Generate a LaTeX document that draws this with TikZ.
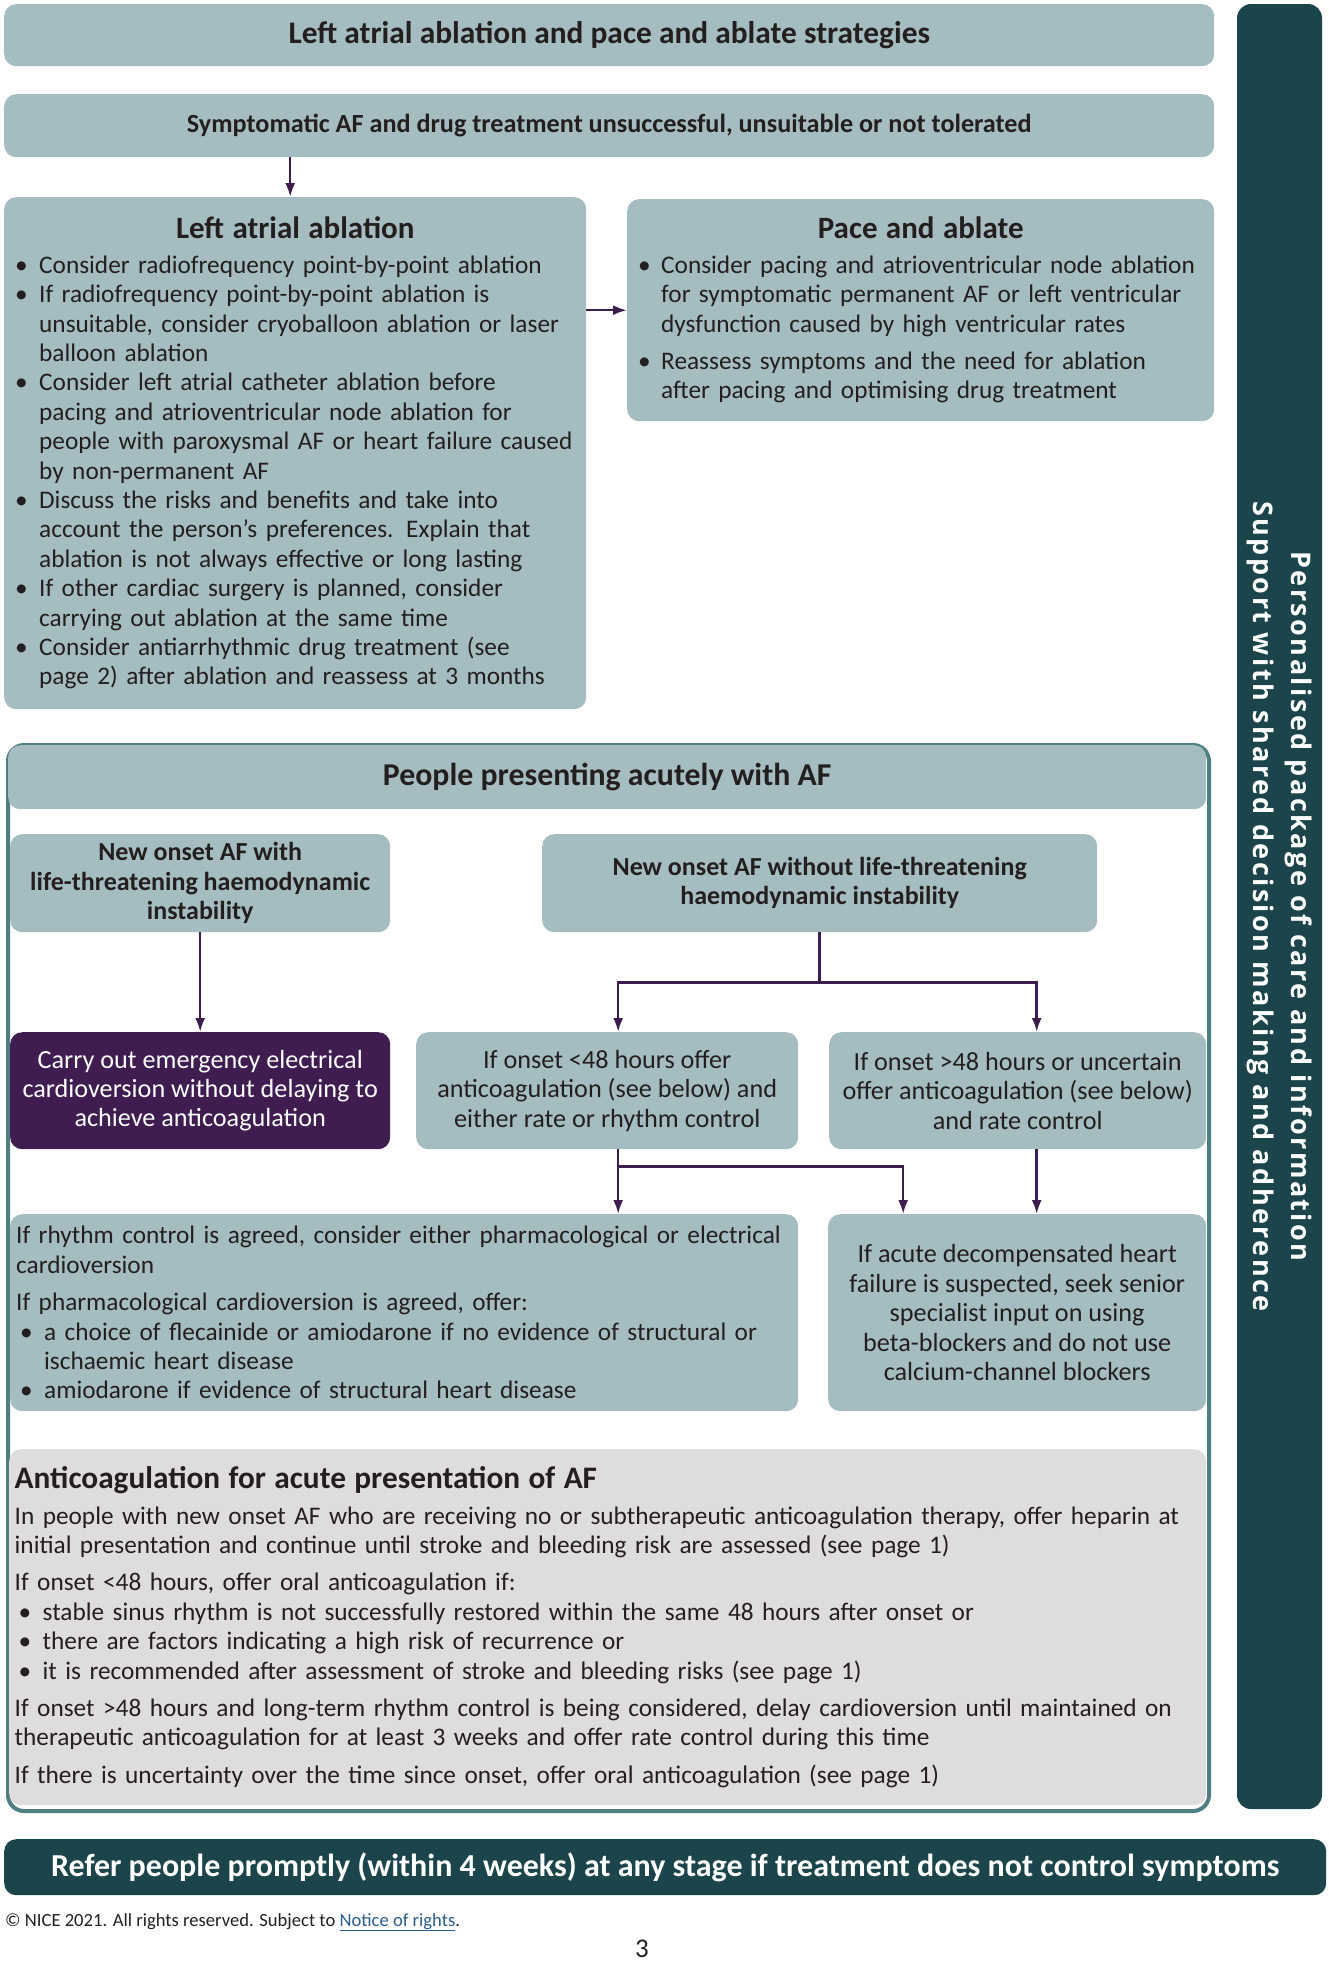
\documentclass[tikz,border=0pt]{standalone}
\usepackage{fontspec}
\setmainfont{Carlito}
\newfontfamily\sidefont{Open Sans}[LetterSpace=9]
\usepackage{xcolor}
\usetikzlibrary{arrows.meta, calc, positioning}

\definecolor{boxgrey}{HTML}{A5BDC1}
\definecolor{darkteal}{HTML}{1B454B}
\definecolor{frameteal}{HTML}{4F7E83}
\definecolor{deeppurple}{HTML}{3F1D51}
\definecolor{arrowpurple}{HTML}{3D1C4E}
\definecolor{palegrey}{HTML}{DEDCDD}
\definecolor{linkblue}{HTML}{2A5C8D}
\definecolor{textdark}{HTML}{231F20}

\setlength{\parindent}{0pt}
\newcommand{\fsz}[2]{\fontsize{#1}{#2}\selectfont}
\newlength{\bulw}
\newlength{\bulx}
% bullet item with hanging indent (\\ becomes \newline so the paragraph goes on)
\newcommand{\bpt}[1]{\par\noindent\hangindent=\bulw\hangafter=1%
  \makebox[\bulw][l]{\hspace*{\bulx}\textbullet}{\let\\\newline#1}\par}

\begin{document}
\begin{tikzpicture}[x=1pt, y=-1pt, >={Latex[length=14pt,width=10pt]},
  box/.style={fill=boxgrey, rounded corners=12pt, anchor=north west, inner sep=0pt,
    text=textdark, font=\fsz{26.2}{29.4}},
  listbox/.style={box, align=left, font=\fsz{25.3}{29.4}},
  arr/.style={->, draw=arrowpurple, line width=2.5pt}]
\useasboundingbox (0,0) rectangle (1329,1970);

% Top part
\node[box, minimum width=1210, minimum height=62, font=\bfseries\fsz{31.4}{34}] (head) at (4,4)
  {Left atrial ablation and pace and ablate strategies};
\node[box, minimum width=1210, minimum height=63, font=\bfseries\fsz{26.2}{30}] (symp) at (4,94)
  {Symptomatic AF and drug treatment unsuccessful, unsuitable or not tolerated};

\node[listbox, minimum width=582, minimum height=512, text width=570] (laa) at (4,197) {%
  \setlength{\bulw}{29pt}\setlength{\bulx}{5pt}%
  {\centering\bfseries\fsz{31}{34}Left atrial ablation\par}\vspace{5pt}%
  \bpt{Consider radiofrequency point-by-point ablation}
  \bpt{If radiofrequency point-by-point ablation is\\ unsuitable, consider cryoballoon ablation or laser\\ balloon ablation}
  \bpt{Consider left atrial catheter ablation before\\ pacing and atrioventricular node ablation for\\ people with paroxysmal AF or heart failure caused\\ by non-permanent AF}
  \bpt{Discuss the risks and benefits and take into\\ account the person’s preferences. Explain that\\ ablation is not always effective or long lasting}
  \bpt{If other cardiac surgery is planned, consider\\ carrying out ablation at the same time}
  \bpt{Consider antiarrhythmic drug treatment (see\\ page 2) after ablation and reassess at 3 months}};

\node[listbox, minimum width=587, minimum height=222, text width=583] (pace) at (627,199) {%
  \setlength{\bulw}{32pt}\setlength{\bulx}{9pt}%
  {\centering\bfseries\fsz{31}{34}Pace and ablate\par}\vspace{5pt}%
  \bpt{Consider pacing and atrioventricular node ablation\\ for symptomatic permanent AF or left ventricular\\ dysfunction caused by high ventricular rates}
  \vspace{8pt}%
  \bpt{Reassess symptoms and the need for ablation\\ after pacing and optimising drug treatment}};

\draw[arr] ([xshift=-5pt]laa.north |- symp.south) -- ([xshift=-5pt]laa.north);
\draw[arr] (laa.east |- pace.west) -- (pace.west);

% Side bar
\node[fill=darkteal, rounded corners=14pt, rotate=-90, minimum width=1805, minimum height=85,
  inner sep=0pt, align=center, text=white, font=\sidefont\bfseries\fsz{27}{38}] (side) at (1279.5,906.5)
  {Personalised package of care and information\\Support with shared decision making and adherence};

% Acute presentation
\node[draw=frameteal, line width=4pt, rounded corners=16pt, anchor=north west, inner sep=0pt,
  minimum width=1201, minimum height=1066] (frame) at (6,743) {};
\node[box, minimum width=1198, minimum height=64, font=\bfseries\fsz{31.8}{34}] (acute) at (8,745)
  {People presenting acutely with AF};

\node[box, minimum width=380, minimum height=98, align=center, font=\bfseries\fsz{26}{29.4}] (newwith) at (10,834)
  {New onset AF with\\ life-threatening haemodynamic\\ instability};
\node[box, minimum width=555, minimum height=98, align=center, font=\bfseries\fsz{26}{29.4}] (newwithout) at (542,834)
  {New onset AF without life-threatening\\ haemodynamic instability};

\node[box, fill=deeppurple, text=white, minimum width=380, minimum height=117, align=center] (emerg) at (10,1032)
  {Carry out emergency electrical\\ cardioversion without delaying to\\ achieve anticoagulation};
\node[box, minimum width=382, minimum height=117, align=center] (lt48) at (416,1032)
  {If onset <48 hours offer\\ anticoagulation (see below) and\\ either rate or rhythm control};
\node[box, minimum width=377, minimum height=117, align=center] (gt48) at (829,1032)
  {If onset >48 hours or uncertain\\ offer anticoagulation (see below)\\ and rate control};

\node[listbox, minimum width=788, minimum height=197, text width=776] (rhythm) at (10,1214) {%
  \setlength{\bulw}{28pt}\setlength{\bulx}{4pt}%
  If rhythm control is agreed, consider either pharmacological or electrical\\ cardioversion\par
  \vspace{8pt}%
  If pharmacological cardioversion is agreed, offer:
  \bpt{a choice of flecainide or amiodarone if no evidence of structural or\\ ischaemic heart disease}
  \bpt{amiodarone if evidence of structural heart disease}};
\node[box, minimum width=378, minimum height=197, align=center] (decomp) at (828,1214)
  {If acute decompensated heart\\ failure is suspected, seek senior\\ specialist input on using\\ beta-blockers and do not use\\ calcium-channel blockers};

\draw[arr] (newwith) -- (emerg);
\draw[arr] (newwithout.south) -- ++(0,50) -| ([xshift=11pt]lt48.north);
\draw[arr] (newwithout.south) -- ++(0,50) -| ([xshift=19pt]gt48.north);
\draw[arr] ([xshift=11pt]lt48.south) -- ([xshift=11pt]lt48.south |- rhythm.north);
\draw[arr] ([xshift=11pt]lt48.south) -- ++(0,17) -| ([xshift=-114pt]decomp.north);
\draw[arr] ([xshift=19pt]gt48.south) -- ([xshift=19pt]gt48.south |- decomp.north);

\node[listbox, fill=palegrey, minimum width=1197, minimum height=356, text width=1186] (anticoag) at (9,1449) {%
  \setlength{\bulw}{28pt}\setlength{\bulx}{4pt}%
  {\bfseries\fsz{31.3}{34}Anticoagulation for acute presentation of AF\par}\vspace{6pt}%
  In people with new onset AF who are receiving no or subtherapeutic anticoagulation therapy, offer heparin at\\ initial presentation and continue until stroke and bleeding risk are assessed (see page 1)\par
  \vspace{8pt}%
  If onset <48 hours, offer oral anticoagulation if:
  \bpt{stable sinus rhythm is not successfully restored within the same 48 hours after onset or}
  \bpt{there are factors indicating a high risk of recurrence or}
  \bpt{it is recommended after assessment of stroke and bleeding risks (see page 1)}
  \vspace{8pt}%
  If onset >48 hours and long-term rhythm control is being considered, delay cardioversion until maintained on\\ therapeutic anticoagulation for at least 3 weeks and offer rate control during this time\par
  \vspace{8pt}%
  If there is uncertainty over the time since onset, offer oral anticoagulation (see page 1)};

% Bottom
\node[box, fill=darkteal, text=white, minimum width=1322, minimum height=56, font=\bfseries\fsz{32}{34}] (refer) at (4,1839)
  {Refer people promptly (within 4 weeks) at any stage if treatment does not control symptoms};
\node[anchor=base west, inner sep=0pt, text=textdark, font=\fsz{18.6}{22}] (copy) at (5,1926)
  {© NICE 2021. All rights reserved. Subject to \textcolor{linkblue}{\underline{Notice of rights}}.};
\node[anchor=base, inner sep=0pt, text=textdark, font=\fsz{27}{30}] (pagenum) at (642,1957) {3};
\end{tikzpicture}
\end{document}
